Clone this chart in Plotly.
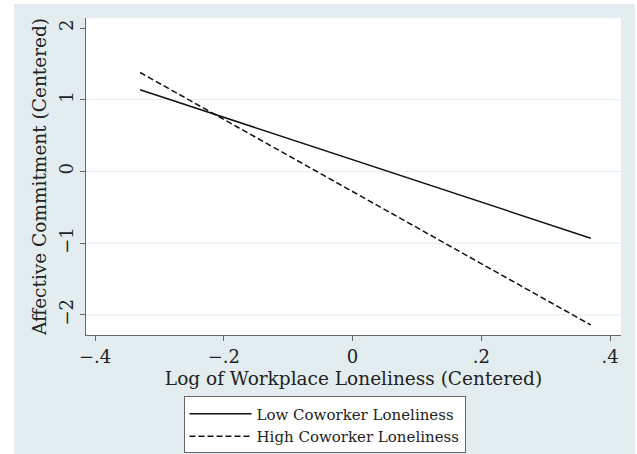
import plotly.graph_objects as go

# Data
x_points = [-0.33, 0.37]
low_coworker = [1.14, -0.93]
high_coworker = [1.38, -2.14]
series_names = ["Low Coworker Loneliness", "High Coworker Loneliness"]

x_tickvals = [-0.4, -0.2, 0, 0.2, 0.4]
x_ticktext = ["\u2212.4", "\u2212.2", "0", ".2", ".4"]
y_tickvals = [-2, -1, 0, 1, 2]
y_ticktext = ["\u22122", "\u22121", "0", "1", "2"]
grid_levels = [-2, -1, 0, 1]

FONT = "DejaVu Serif"
BG = "#e3edf0"

fig = go.Figure()
fig.add_trace(go.Scatter(x=x_points, y=low_coworker, mode="lines", name=series_names[0],
                         line=dict(color="#111111", width=1.5)))
fig.add_trace(go.Scatter(x=x_points, y=high_coworker, mode="lines", name=series_names[1],
                         line=dict(color="#111111", width=1.5, dash="6px,3px")))

shapes = [
    # graph region background (Stata style)
    dict(type="rect", xref="paper", yref="paper", x0=-0.1346, x1=1.0262, y0=-0.45, y1=1.044,
         fillcolor=BG, line=dict(width=0), layer="below"),
    # white plot region
    dict(type="rect", xref="paper", yref="paper", x0=0, x1=1, y0=0, y1=1,
         fillcolor="white", line=dict(width=0), layer="below"),
]
for g in grid_levels:
    shapes.append(dict(type="line", xref="paper", yref="y", x0=0, x1=1, y0=g, y1=g,
                       line=dict(color="#e4eef2", width=1), layer="below"))

fig.update_layout(
    width=637, height=465,
    margin=dict(l=86, r=16, t=18, b=127),
    paper_bgcolor="white",
    plot_bgcolor="rgba(0,0,0,0)",
    font=dict(family=FONT, color="#222222"),
    shapes=shapes,
    showlegend=True,
    legend=dict(x=0.4458, xanchor="center", y=-0.194, yanchor="top",
                bgcolor="white", bordercolor="#666666", borderwidth=1,
                font=dict(family=FONT, size=15, color="#222222"),
                tracegroupgap=0, itemwidth=62),
)
fig.update_xaxes(
    range=[-0.414, 0.417], tickvals=x_tickvals, ticktext=x_ticktext, automargin=False,
    showgrid=False, zeroline=False, showline=True, linecolor="#666666", linewidth=1,
    ticks="outside", ticklen=5, tickcolor="#666666",
    tickfont=dict(family=FONT, size=18, color="#222222"),
    title=dict(text="Log of Workplace Loneliness (Centered)", font=dict(family=FONT, size=18.5, color="#222222"),
               standoff=6),
)
fig.update_yaxes(
    range=[-2.28, 2.14], tickvals=y_tickvals, ticktext=y_ticktext, tickangle=-90, automargin=False,
    showgrid=False, zeroline=False, showline=True, linecolor="#666666", linewidth=1,
    ticks="outside", ticklen=5, tickcolor="#666666",
    tickfont=dict(family=FONT, size=18, color="#222222"),
    title=dict(text="Affective Commitment (Centered)", font=dict(family=FONT, size=18.5, color="#222222"),
               standoff=4),
)

fig.write_html(
    "out.html",
    config={"displayModeBar": False},
    post_script=(
        "document.body.style.margin='0';"
        "document.body.style.overflow='hidden';"
        "document.documentElement.style.overflow='hidden';"
    ),
)
